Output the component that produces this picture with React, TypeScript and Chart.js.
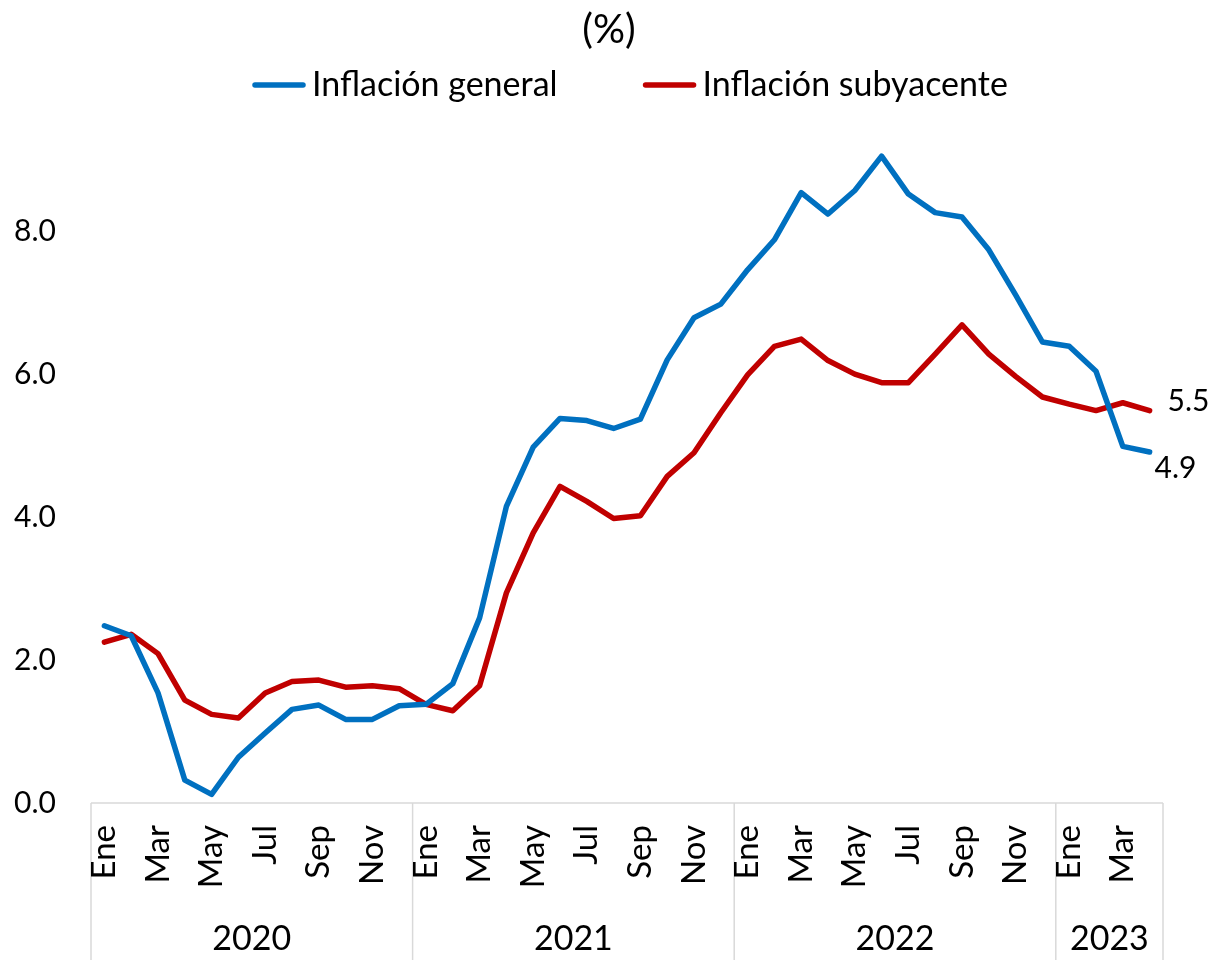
import React, { useEffect, useRef } from "react";
import { Chart, registerables } from "chart.js";

Chart.register(...registerables);

const years = ["2020", "2021", "2022", "2023"];
const monthsPerYear = [12, 12, 12, 4];
const monthNames = ["Ene", "Feb", "Mar", "Abr", "May", "Jun", "Jul", "Ago", "Sep", "Oct", "Nov", "Dic"];

const general = [
  2.48, 2.34, 1.54, 0.32, 0.12, 0.64, 0.98, 1.31, 1.37, 1.17, 1.17, 1.36,
  1.38, 1.67, 2.59, 4.15, 4.98, 5.38, 5.35, 5.24, 5.37, 6.2, 6.79, 6.98,
  7.46, 7.88, 8.54, 8.24, 8.57, 9.05, 8.52, 8.26, 8.2, 7.74, 7.11, 6.45,
  6.39, 6.04, 4.99, 4.91,
];
const subyacente = [
  2.25, 2.36, 2.09, 1.44, 1.24, 1.19, 1.54, 1.7, 1.72, 1.62, 1.64, 1.6,
  1.38, 1.29, 1.64, 2.94, 3.78, 4.43, 4.22, 3.98, 4.02, 4.57, 4.9, 5.46,
  5.99, 6.39, 6.49, 6.19, 6.0, 5.88, 5.88, 6.28, 6.69, 6.28, 5.97, 5.68,
  5.58, 5.49, 5.6, 5.49,
];
const endLabels = ["4.9", "5.5"];
const yTicks = [0, 2, 4, 6, 8];
const seriesNames = ["Inflación general", "Inflación subyacente"];
const seriesColors = ["#0070C0", "#C00000"];
const titleText = "(%)";

const labels: string[] = [];
years.forEach((y, yi) => {
  for (let m = 0; m < monthsPerYear[yi]; m++) {
    labels.push(monthNames[m]);
  }
});

const FONT = "Lato, 'Noto Sans', sans-serif";

const decorPlugin = {
  id: "decor",
  afterDraw(chart: any) {
    const ctx = chart.ctx;
    const xs = chart.scales.x;
    const area = chart.chartArea;
    const n = labels.length;
    const catW = (area.right - area.left) / n;
    const axisY = area.bottom;
    const bottom = chart.height;
    ctx.save();

    // axis line + separators
    ctx.strokeStyle = "#D9D9D9";
    ctx.lineWidth = 1.5;
    ctx.beginPath();
    ctx.moveTo(area.left, axisY);
    ctx.lineTo(area.right, axisY);
    ctx.stroke();
    let start = 0;
    const bounds: number[] = [];
    monthsPerYear.forEach((cnt) => {
      bounds.push(start);
      start += cnt;
    });
    bounds.push(start);
    const boundX = bounds.map((b) =>
      b < n ? xs.getPixelForValue(b) - catW / 2 : xs.getPixelForValue(n - 1) + catW / 2
    );
    boundX.forEach((bx) => {
      ctx.beginPath();
      ctx.moveTo(bx, axisY);
      ctx.lineTo(bx, bottom);
      ctx.stroke();
    });

    // month labels (every other month), rotated
    ctx.fillStyle = "#000";
    ctx.font = `33px ${FONT}`;
    ctx.textAlign = "right";
    ctx.textBaseline = "middle";
    labels.forEach((lab, i) => {
      const m = monthNames.indexOf(lab);
      if (m % 2 !== 0) return;
      const px = xs.getPixelForValue(i);
      ctx.save();
      ctx.translate(px, axisY + 22);
      ctx.rotate(-Math.PI / 2);
      ctx.fillText(lab, 0, 0);
      ctx.restore();
    });

    // year labels
    ctx.font = `34px ${FONT}`;
    ctx.textAlign = "center";
    ctx.textBaseline = "middle";
    years.forEach((y, yi) => {
      const cx = (boundX[yi] + boundX[yi + 1]) / 2;
      ctx.fillText(y, cx, axisY + 136);
    });

    // end labels
    ctx.font = `30px ${FONT}`;
    ctx.textAlign = "left";
    const offs = [
      [5, 16],
      [18, -9],
    ];
    chart.data.datasets.forEach((ds: any, di: number) => {
      const meta = chart.getDatasetMeta(di);
      const pt = meta.data[meta.data.length - 1];
      ctx.fillText(endLabels[di], pt.x + offs[di][0], pt.y + offs[di][1]);
    });

    // title
    ctx.font = `40px ${FONT}`;
    ctx.textAlign = "center";
    ctx.fillText(titleText, 609, 30);

    // legend
    ctx.font = `34px ${FONT}`;
    ctx.textAlign = "left";
    let lx = 253;
    const ly = 85;
    chart.data.datasets.forEach((ds: any, di: number) => {
      ctx.strokeStyle = ds.borderColor;
      ctx.lineWidth = 5.5;
      ctx.lineCap = "round";
      ctx.beginPath();
      ctx.moveTo(lx + 2, ly);
      ctx.lineTo(lx + 50, ly);
      ctx.stroke();
      const tx = lx + 59;
      ctx.fillText(ds.label, tx, ly);
      lx = tx + ctx.measureText(ds.label).width + 86;
    });
    ctx.restore();
  },
};

export default function App() {
  const ref = useRef<HTMLCanvasElement>(null);
  useEffect(() => {
    document.body.style.margin = "0";
    if (!ref.current) return;
    Chart.defaults.font.family = FONT;
    const chart = new Chart(ref.current, {
      type: "line",
      data: {
        labels,
        datasets: [
          {
            label: seriesNames[0],
            data: general,
            borderColor: seriesColors[0],
            backgroundColor: seriesColors[0],
            borderWidth: 5.5,
            pointRadius: 0,
            tension: 0,
            borderJoinStyle: "round",
            borderCapStyle: "round",
          },
          {
            label: seriesNames[1],
            data: subyacente,
            borderColor: seriesColors[1],
            backgroundColor: seriesColors[1],
            borderWidth: 5.5,
            pointRadius: 0,
            tension: 0,
            borderJoinStyle: "round",
            borderCapStyle: "round",
          },
        ],
      },
      options: {
        animation: false,
        responsive: false,
        devicePixelRatio: 1,
        layout: { padding: { top: 124, bottom: 157, left: 0, right: 53 } },
        plugins: {
          legend: { display: false },
          title: { display: false },
          tooltip: { enabled: false },
        },
        scales: {
          x: {
            type: "category",
            display: false,
            offset: true,
          },
          y: {
            min: 0,
            max: 9.5,
            grid: { display: false, drawTicks: false },
            border: { display: false },
            afterBuildTicks: (scale: any) => {
              scale.ticks = yTicks.map((v) => ({ value: v }));
            },
            afterFit: (scale: any) => {
              scale.width = 91;
            },
            ticks: {
              padding: 35,
              color: "#000",
              font: { size: 30, family: FONT },
              callback: (v: any) => Number(v).toFixed(1),
            },
          },
        },
      },
      plugins: [decorPlugin],
    });
    return () => chart.destroy();
  }, []);
  return (
    <div style={{ position: "fixed", left: 0, top: 0, width: 1216, height: 960, background: "#fff" }}>
      <canvas ref={ref} width={1216} height={960} style={{ width: 1216, height: 960 }} />
    </div>
  );
}
